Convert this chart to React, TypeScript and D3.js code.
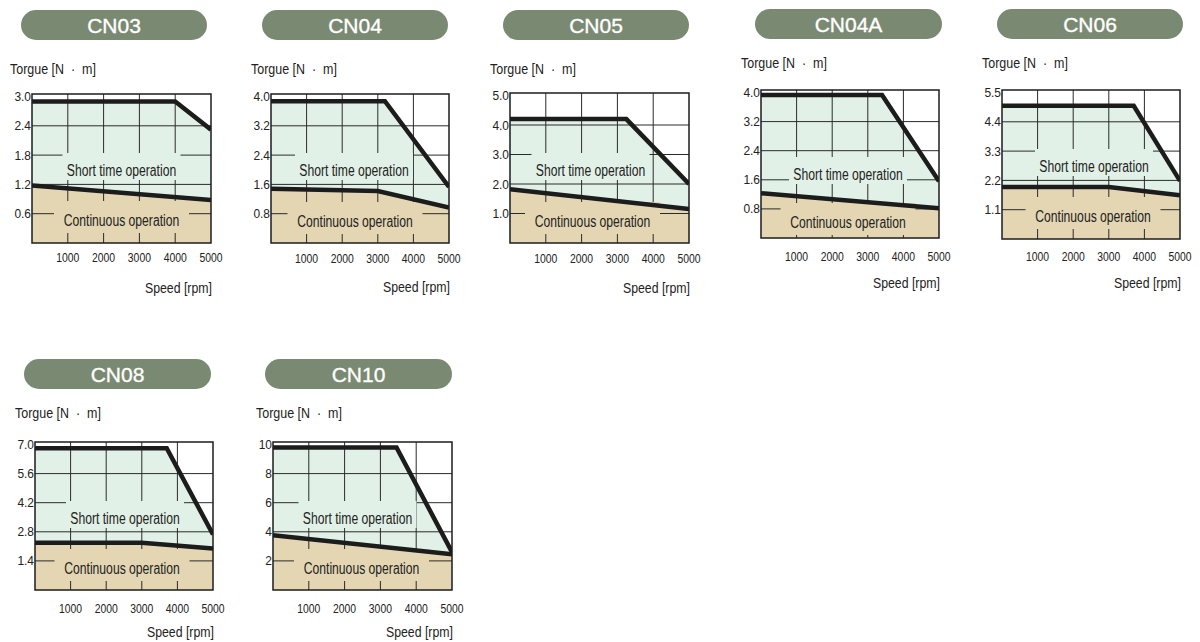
import React from 'react';
import * as d3 from 'd3';

// ---------- data ----------
const models = ['CN03', 'CN04', 'CN05', 'CN04A', 'CN06', 'CN08', 'CN10'];
const torqueMax = [3.0, 4.0, 5.0, 4.0, 5.5, 7.0, 10];
const torqueTickLabels = [
  ['0.6', '1.2', '1.8', '2.4', '3.0'],
  ['0.8', '1.6', '2.4', '3.2', '4.0'],
  ['1.0', '2.0', '3.0', '4.0', '5.0'],
  ['0.8', '1.6', '2.4', '3.2', '4.0'],
  ['1.1', '2.2', '3.3', '4.4', '5.5'],
  ['1.4', '2.8', '4.2', '5.6', '7.0'],
  ['2', '4', '6', '8', '10'],
];
const speedTicks = [1000, 2000, 3000, 4000, 5000];
const speedMax = 5000;

// short time operation (peak) curve
const peakSpeed = [
  [0, 4000, 5000],
  [0, 3200, 5000],
  [0, 3250, 5000],
  [0, 3400, 5000],
  [0, 3700, 5000],
  [0, 3700, 5000],
  [0, 3450, 5000],
];
const peakTorque = [
  [2.9, 2.9, 2.32],
  [3.87, 3.87, 1.53],
  [4.2, 4.2, 2.0],
  [3.93, 3.93, 1.56],
  [5.0, 5.0, 2.18],
  [6.82, 6.82, 2.67],
  [9.8, 9.8, 2.6],
];
// continuous operation curve
const contSpeed = [
  [0, 5000],
  [0, 3000, 5000],
  [0, 5000],
  [0, 5000],
  [0, 3000, 5000],
  [0, 3000, 5000],
  [0, 5000],
];
const contTorque = [
  [1.18, 0.88],
  [1.48, 1.42, 0.97],
  [1.82, 1.15],
  [1.23, 0.82],
  [1.95, 1.95, 1.64],
  [2.27, 2.27, 2.0],
  [3.76, 2.45],
];

const shortLabel = 'Short time operation';
const contLabel = 'Continuous operation';
const yTitle = 'Torgue [N  ·  m]';
const xTitle = 'Speed [rpm]';

// ---------- layout / style ----------
const layouts = [
  { pill: [21, 10, 186], box: [32, 94, 179, 149], yl: [10, 74], xt: 262, xl: 293, sy: -67, cy: -17, sdx: 0, cdx: 0 },
  { pill: [262, 10, 186], box: [271, 94, 178, 149], yl: [251, 74], xt: 263, xl: 292, sy: -67, cy: -16, sdx: -6, cdx: -5 },
  { pill: [503, 10, 186], box: [510, 93, 179, 150], yl: [490, 74], xt: 263, xl: 293, sy: -67, cy: -16, sdx: -9, cdx: -7 },
  { pill: [755, 9, 187], box: [761, 90, 178, 148], yl: [741, 68], xt: 261, xl: 288, sy: -58, cy: -10, sdx: -2, cdx: -2 },
  { pill: [997, 9, 186], box: [1002, 90, 178, 149], yl: [982, 68], xt: 261, xl: 288, sy: -67, cy: -17, sdx: 3, cdx: 2 },
  { pill: [24, 359, 187], box: [35, 442, 178, 148], yl: [15, 418], xt: 613, xl: 637, sy: -66, cy: -16, sdx: 1, cdx: -2 },
  { pill: [265, 359, 187], box: [273, 442, 179, 148], yl: [256, 418], xt: 613, xl: 637, sy: -66, cy: -16, sdx: -5, cdx: -1 },
];

const FONT = "'Liberation Sans', Arial, Helvetica, sans-serif";
const PILL = '#7a8a72';
const GREEN = '#e2f1e7';
const TAN = '#e4d6b3';
const INK = '#1c1c1c';
const GRID = '#2a2a2a';
const SHORT_W = 110;
const CONT_W = 117;

type CTextProps = {
  x: number; y: number; sx?: number; anchor?: string; size: number; fill?: string; children: React.ReactNode;
};
const CText = ({ x, y, sx = 1, anchor = 'start', size, fill = '#222', children }: CTextProps) => (
  <g transform={`translate(${x},${y}) scale(${sx},1)`}>
    <text textAnchor={anchor as any} fontSize={size} fill={fill} fontFamily={FONT} style={{ whiteSpace: 'pre' }}>
      {children}
    </text>
  </g>
);

function Panel({ i }: { i: number }) {
  const L = layouts[i];
  const [bx, by, bw, bh] = L.box;
  const bottom = by + bh;
  const x = d3.scaleLinear().domain([0, speedMax]).range([bx, bx + bw]);
  const y = d3.scaleLinear().domain([0, torqueMax[i]]).range([bottom, by + 2.5]);
  const yTicks = torqueTickLabels[i].map((s) => ({ v: +s, s }));

  const peak = peakSpeed[i].map((s, k) => [s, peakTorque[i][k]] as [number, number]);
  const cont = contSpeed[i].map((s, k) => [s, contTorque[i][k]] as [number, number]);

  const area = d3
    .area<[number, number]>()
    .x((d) => x(d[0]))
    .y0(bottom)
    .y1((d) => y(d[1]));
  const line = d3
    .line<[number, number]>()
    .x((d) => x(d[0]))
    .y((d) => y(d[1]));

  const cx = bx + bw / 2;
  const sBase = bottom + L.sy;
  const cBase = bottom + L.cy;
  const [px, py, pw] = L.pill;
  const clipId = `clip${i}`;

  return (
    <g>
      {/* title pill */}
      <rect x={px} y={py} width={pw} height={30} rx={15} ry={15} fill={PILL} />
      <text x={px + pw / 2} y={py + 22.5} textAnchor="middle" fontSize={21} fill="#fff" fontFamily={FONT}
        stroke="#fff" strokeWidth={0.35}>
        {models[i]}
      </text>

      {/* axis titles */}
      <CText x={L.yl[0]} y={L.yl[1]} sx={0.89} size={14}>{yTitle}</CText>
      <CText x={bx + bw + 1} y={L.xl} sx={0.88} size={14} anchor="end">{xTitle}</CText>

      <defs>
        <clipPath id={clipId}>
          <rect x={bx} y={by} width={bw} height={bh} />
        </clipPath>
      </defs>

      <g clipPath={`url(#${clipId})`}>
        <rect x={bx} y={by} width={bw} height={bh} fill="#fff" />
        <path d={area(peak) || ''} fill={GREEN} />
        <path d={area(cont) || ''} fill={TAN} />

        {/* grid */}
        {speedTicks.slice(0, -1).map((t) => (
          <line key={`v${t}`} x1={x(t)} x2={x(t)} y1={by} y2={bottom} stroke={GRID} strokeWidth={1} />
        ))}
        {yTicks.slice(0, -1).map((t) => (
          <line key={`h${t.s}`} x1={bx} x2={bx + bw} y1={y(t.v)} y2={y(t.v)} stroke={GRID} strokeWidth={1} />
        ))}

        {/* label backgrounds */}
        <rect
          x={cx + L.sdx - SHORT_W / 2 - 4}
          y={sBase - 23}
          width={SHORT_W + 8}
          height={27}
          fill={GREEN}
        />
        <rect
          x={cx + L.cdx - CONT_W / 2 - 9}
          y={cBase - 25}
          width={CONT_W + 18}
          height={32}
          fill={TAN}
        />

        {/* characteristic curves */}
        <path d={line(peak) || ''} fill="none" stroke={INK} strokeWidth={4.5} strokeLinejoin="miter" />
        <path d={line(cont) || ''} fill="none" stroke={INK} strokeWidth={4.5} strokeLinejoin="miter" />
      </g>

      {/* region labels */}
      <CText x={cx + L.sdx} y={sBase} sx={0.76} size={16} anchor="middle">{shortLabel}</CText>
      <CText x={cx + L.cdx} y={cBase} sx={0.76} size={16} anchor="middle">{contLabel}</CText>

      {/* frame */}
      <rect x={bx} y={by} width={bw} height={bh} fill="none" stroke={INK} strokeWidth={1.5} />

      {/* tick labels */}
      {yTicks.map((t) => (
        <CText key={`yl${t.s}`} x={bx - 1} y={y(t.v) + 4.5} sx={0.92} size={13} anchor="end">
          {t.s}
        </CText>
      ))}
      {speedTicks.map((t) => (
        <CText key={`xl${t}`} x={x(t)} y={L.xt} sx={0.8} size={13} anchor="middle">
          {String(t)}
        </CText>
      ))}
    </g>
  );
}

export default function App() {
  return (
    <svg
      width={1200}
      height={642}
      viewBox="0 0 1200 642"
      style={{ position: 'absolute', left: 0, top: 0, background: '#fff' }}
    >
      <rect x={0} y={0} width={1200} height={642} fill="#fff" />
      {models.map((_, i) => (
        <Panel key={models[i]} i={i} />
      ))}
    </svg>
  );
}
